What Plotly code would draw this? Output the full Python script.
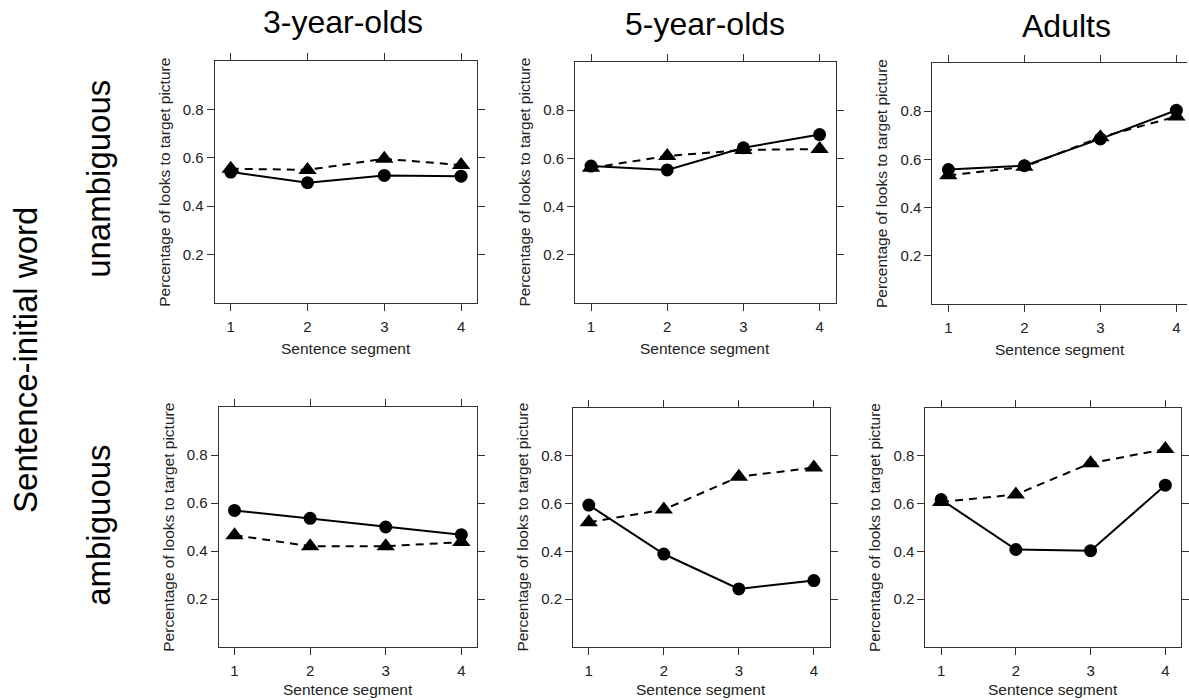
import plotly.graph_objects as go

# ---------------- data ----------------
segments = [1, 2, 3, 4]
age_groups = ["3-year-olds", "5-year-olds", "Adults"]
conditions = ["unambiguous", "ambiguous"]
y_tick_vals = [0.2, 0.4, 0.6, 0.8]
y_tick_text = ["0.2", "0.4", "0.6", "0.8"]
x_tick_text = ["1", "2", "3", "4"]

# circle marker / solid line series
unamb_3yo_circle = [0.541, 0.497, 0.527, 0.524]
unamb_5yo_circle = [0.568, 0.552, 0.644, 0.699]
unamb_adult_circle = [0.558, 0.574, 0.685, 0.804]
amb_3yo_circle = [0.569, 0.536, 0.500, 0.468]
amb_5yo_circle = [0.594, 0.389, 0.243, 0.278]
amb_adult_circle = [0.617, 0.408, 0.403, 0.677]

# triangle marker / dashed line series
unamb_3yo_triangle = [0.555, 0.550, 0.596, 0.570]
unamb_5yo_triangle = [0.561, 0.610, 0.635, 0.639]
unamb_adult_triangle = [0.534, 0.569, 0.692, 0.778]
amb_3yo_triangle = [0.466, 0.420, 0.420, 0.437]
amb_5yo_triangle = [0.522, 0.575, 0.712, 0.751]
amb_adult_triangle = [0.607, 0.638, 0.769, 0.828]

y_title = "Percentage of looks to target picture"
x_title = "Sentence segment"
outer_label = "Sentence-initial word"

# ---------------- layout geometry (pixels) ----------------
W, H = 1189, 700
FONT = "Liberation Sans, Arial, Helvetica, sans-serif"
INK = "#222222"
FRAME = "#333333"

# (left, right, top, bottom, xmin, xmax)
panel_boxes = [
    [(215, 478, 61, 303, 0.79, 4.21), (576, 837, 62, 303, 0.79, 4.21), (934, 1189, 63, 304, 0.79, 4.14)],
    [(219, 478, 407, 647, 0.79, 4.21), (574, 831, 408, 647, 0.79, 4.21), (927, 1183, 408, 647, 0.79, 4.21)],
]
series = [
    [(unamb_3yo_circle, unamb_3yo_triangle), (unamb_5yo_circle, unamb_5yo_triangle),
     (unamb_adult_circle, unamb_adult_triangle)],
    [(amb_3yo_circle, amb_3yo_triangle), (amb_5yo_circle, amb_5yo_triangle),
     (amb_adult_circle, amb_adult_triangle)],
]


def px(x):
    return x / W


def py(y):
    return 1 - y / H


fig = go.Figure()
annotations = []
layout_axes = {}

idx = 0
for r in range(2):
    for c in range(3):
        idx += 1
        left, right, top, bottom, xmin, xmax = panel_boxes[r][c]
        xa = "x" if idx == 1 else f"x{idx}"
        ya = "y" if idx == 1 else f"y{idx}"
        circ, tri = series[r][c]
        fig.add_trace(go.Scatter(
            x=segments, y=tri, xaxis=xa, yaxis=ya, mode="lines+markers",
            line=dict(color="black", width=2, dash="8px,6px"),
            marker=dict(symbol="triangle-up", size=16, color="black"),
            showlegend=False, cliponaxis=False))
        fig.add_trace(go.Scatter(
            x=segments, y=circ, xaxis=xa, yaxis=ya, mode="lines+markers",
            line=dict(color="black", width=2),
            marker=dict(symbol="circle", size=13, color="black"),
            showlegend=False, cliponaxis=False))

        xname = "xaxis" if idx == 1 else f"xaxis{idx}"
        yname = "yaxis" if idx == 1 else f"yaxis{idx}"
        layout_axes[xname] = dict(
            domain=[px(left), min(1.0, px(right))], anchor=ya,
            range=[xmin, xmax], tickvals=segments, ticktext=x_tick_text,
            showline=True, linecolor=FRAME, linewidth=1, mirror="ticks",
            ticks="outside", ticklen=7, tickcolor=FRAME, tickwidth=1,
            showgrid=False, zeroline=False, ticklabelstandoff=3,
            tickfont=dict(family=FONT, size=15, color=INK))
        layout_axes[yname] = dict(
            domain=[py(bottom), py(top)], anchor=xa,
            range=[0, 1], tickvals=y_tick_vals, ticktext=y_tick_text,
            showline=True, linecolor=FRAME, linewidth=1,
            mirror=("ticks" if right < W else False),
            ticks="outside", ticklen=7, tickcolor=FRAME, tickwidth=1,
            showgrid=False, zeroline=False,
            tickfont=dict(family=FONT, size=15, color=INK))

        # axis titles
        annotations.append(dict(
            text=x_title, x=px((left + right) / 2), y=py(bottom + (45 if r == 0 else 42)),
            xref="paper", yref="paper", showarrow=False, xanchor="center", yanchor="middle",
            font=dict(family=FONT, size=15.5, color=INK)))
        annotations.append(dict(
            text=y_title, x=px(left - 51), y=py((top + bottom) / 2),
            xref="paper", yref="paper", showarrow=False, xanchor="center", yanchor="middle",
            textangle=-90, font=dict(family=FONT, size=15.5, color=INK)))

# column titles
col_title_pos = [(344, 22), (706, 24), (1068, 26)]
for name, (cx, cy) in zip(age_groups, col_title_pos):
    annotations.append(dict(
        text=name, x=px(cx), y=py(cy), xref="paper", yref="paper", showarrow=False,
        xanchor="center", yanchor="middle", font=dict(family=FONT, size=32, color="black")))

# row labels
row_label_pos = [(98, 179), (98, 525)]
for name, (cx, cy) in zip(conditions, row_label_pos):
    annotations.append(dict(
        text=name, x=px(cx), y=py(cy), xref="paper", yref="paper", showarrow=False,
        xanchor="center", yanchor="middle", textangle=-90,
        font=dict(family=FONT, size=33, color="black")))

annotations.append(dict(
    text=outer_label, x=px(26), y=py(360), xref="paper", yref="paper", showarrow=False,
    xanchor="center", yanchor="middle", textangle=-90,
    font=dict(family=FONT, size=33, color="black")))

fig.update_layout(
    width=W, height=H, margin=dict(l=0, r=0, t=0, b=0),
    paper_bgcolor="white", plot_bgcolor="white",
    annotations=annotations, **layout_axes)

fig.write_html(
    "out.html",
    config={"displayModeBar": False},
    post_script="document.body.style.margin='0';document.body.style.overflow='hidden';",
)
